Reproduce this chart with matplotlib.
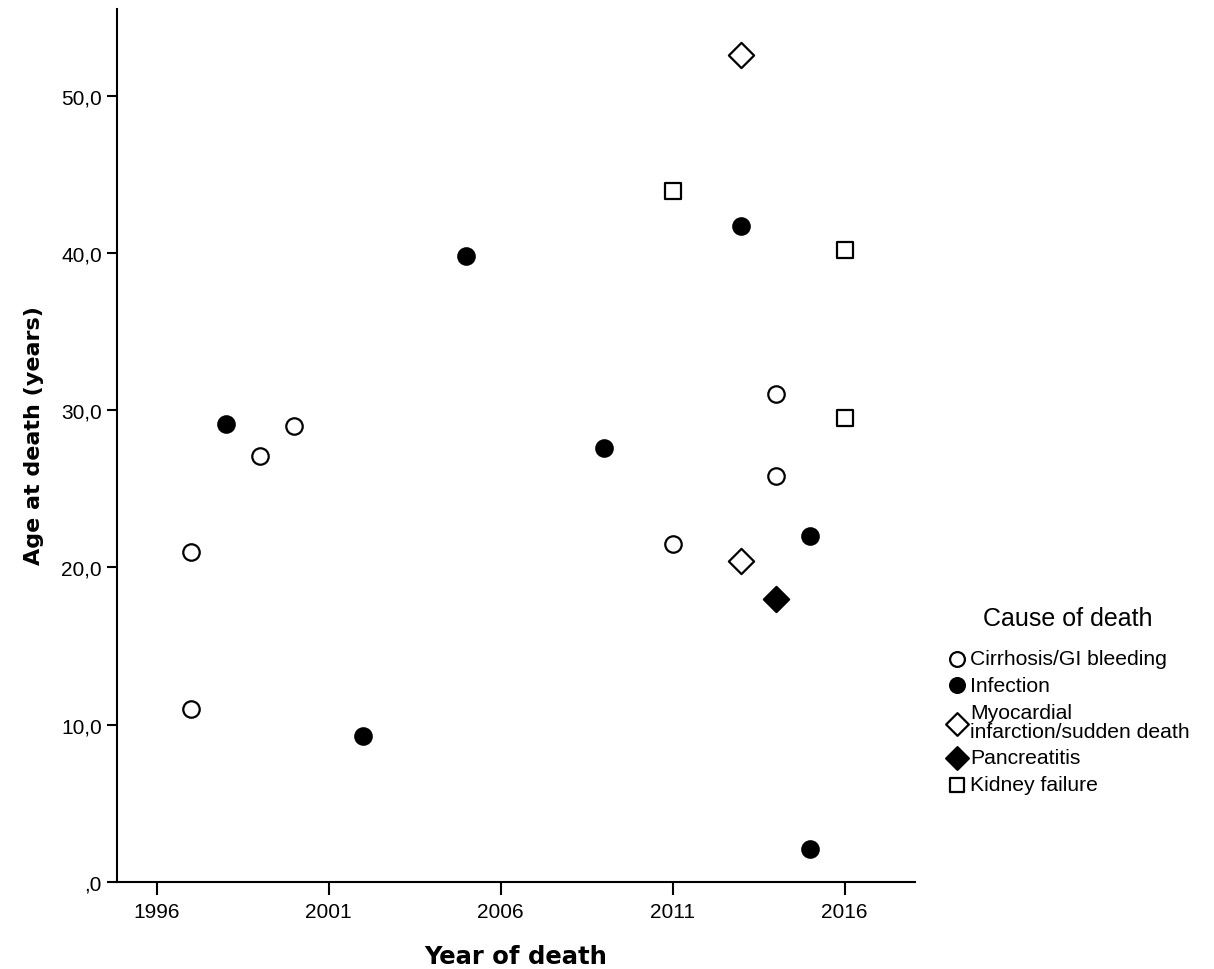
import matplotlib.pyplot as plt
from matplotlib.ticker import FuncFormatter

plt.rcParams['font.family'] = ['Liberation Sans', 'DejaVu Sans']

# Data (year of death, age at death)
cirr_year = [1997, 1997, 1999, 2000, 2011, 2014, 2014]
cirr_age = [21.0, 11.0, 27.1, 29.0, 21.5, 31.0, 25.8]

inf_year = [1998, 2002, 2005, 2009, 2013, 2015, 2015]
inf_age = [29.1, 9.3, 39.8, 27.6, 41.7, 22.0, 2.1]

mi_year = [2013, 2013]
mi_age = [52.6, 20.4]

panc_year = [2014]
panc_age = [18.0]

kid_year = [2011, 2016, 2016]
kid_age = [43.9, 40.2, 29.5]

x_ticks = [1996, 2001, 2006, 2011, 2016]
y_ticks = [0, 10, 20, 30, 40, 50]

fig = plt.figure(figsize=(12.14, 9.70), dpi=100)
ax = fig.add_axes([0.0964, 0.0897, 0.6573, 0.90])

lw = 1.6
ax.scatter(cirr_year, cirr_age, s=140, marker='o', facecolors='white', edgecolors='black',
           linewidths=lw, label='Cirrhosis/GI bleeding', zorder=3)
ax.scatter(inf_year, inf_age, s=140, marker='o', facecolors='black', edgecolors='black',
           linewidths=lw, label='Infection', zorder=3)
ax.scatter(mi_year, mi_age, s=165, marker='D', facecolors='white', edgecolors='black',
           linewidths=lw, label='Myocardial\ninfarction/sudden death', zorder=3)
ax.scatter(panc_year, panc_age, s=165, marker='D', facecolors='black', edgecolors='black',
           linewidths=lw, label='Pancreatitis', zorder=3)
ax.scatter(kid_year, kid_age, s=125, marker='s', facecolors='white', edgecolors='black',
           linewidths=lw, label='Kidney failure', zorder=3)

ax.set_xlim(1994.84, 2018.05)
ax.set_ylim(0, 55.5)
ax.set_xticks(x_ticks)
ax.set_yticks(y_ticks)

def fmt_y(v, pos):
    s = '%.1f' % v
    s = s.replace('.', ',')
    if s.startswith('0'):
        s = s[1:]
    return s

ax.yaxis.set_major_formatter(FuncFormatter(fmt_y))

for side in ['top', 'right']:
    ax.spines[side].set_visible(False)
for side in ['left', 'bottom']:
    ax.spines[side].set_linewidth(1.5)

ax.tick_params(axis='y', direction='out', length=7, width=1.5, labelsize=15, pad=4)
ax.tick_params(axis='x', direction='out', length=9.5, width=1.5, labelsize=15, pad=5)

ax.set_xlabel('Year of death', fontsize=17.5, fontweight='bold', family='DejaVu Sans')
ax.set_ylabel('Age at death (years)', fontsize=16, fontweight='bold', family='DejaVu Sans')
ax.xaxis.set_label_coords(0.5, -0.071)
ax.yaxis.set_label_coords(-0.091, 0.513)

leg = fig.legend(loc='upper left', bbox_to_anchor=(0.772, 0.383), frameon=False,
                 title='Cause of death', title_fontsize=18, fontsize=15.2,
                 handletextpad=0.05, handlelength=1.1, labelspacing=0.36,
                 borderaxespad=0, markerscale=0.9)
leg._legend_box.sep = 14
for t in leg.get_texts():
    t.set_linespacing(1.02)

fig.savefig('out.png', dpi=100, facecolor='white')
